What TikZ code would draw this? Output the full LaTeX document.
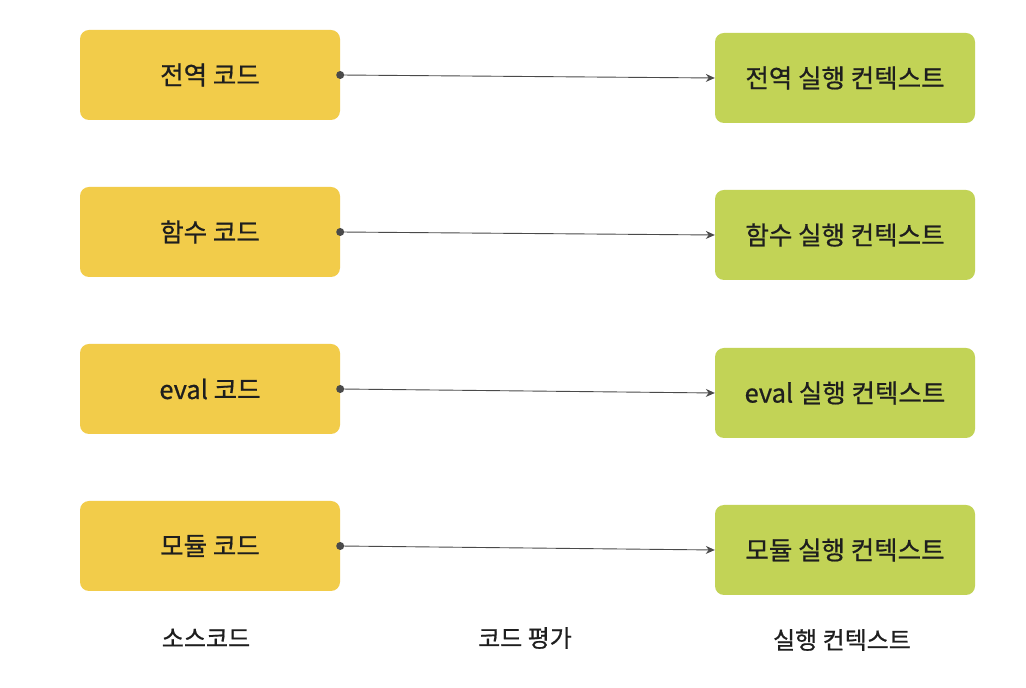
\documentclass[tikz,border=0pt]{standalone}
\usepackage{fontspec}
\setmainfont{Noto Sans CJK KR}[FakeBold=0.7]
\usetikzlibrary{arrows.meta}
\definecolor{srcfill}{HTML}{F2CC4A}
\definecolor{ctxfill}{HTML}{C2D356}
\definecolor{linec}{HTML}{4A4A4A}
\definecolor{textc}{HTML}{1E1E1E}
\tikzset{
  box/.style={rounded corners=9pt, minimum width=260pt, minimum height=90pt, inner sep=0pt, text=textc, font=\fontsize{25.5}{28}\selectfont},
  srcbox/.style={box, fill=srcfill},
  ctxbox/.style={box, fill=ctxfill},
  conn/.style={draw=linec, line width=0.9pt, -{Stealth[length=9pt,width=8pt]}},
  dot/.style={circle, fill=linec, inner sep=0pt, minimum size=8pt},
  lab/.style={text=textc, font=\fontsize{24}{26}\selectfont}
}
\begin{document}
\begin{tikzpicture}[x=1pt,y=1pt]
\useasboundingbox[fill=white] (0,0) rectangle (1026,688);
\node[srcbox] (s1) at (210,613) {전역 코드};
\node[srcbox] (s2) at (210,456) {함수 코드};
\node[srcbox] (s3) at (210,299) {eval 코드};
\node[srcbox] (s4) at (210,142) {모듈 코드};
\node[ctxbox] (c1) at (845,610) {전역 실행 컨텍스트};
\node[ctxbox] (c2) at (845,453) {함수 실행 컨텍스트};
\node[ctxbox] (c3) at (845,295) {eval 실행 컨텍스트};
\node[ctxbox] (c4) at (845,138) {모듈 실행 컨텍스트};
\foreach \i in {1,...,4}{
  \node[dot] (d\i) at (s\i.east) {};
  \draw[conn] (d\i.center) -- (c\i.west);
}
\node[lab] (l1) at (206,50) {소스코드};
\node[lab] (l2) at (525,50) {코드 평가};
\node[lab] (l3) at (842,48) {실행 컨텍스트};
\end{tikzpicture}
\end{document}
